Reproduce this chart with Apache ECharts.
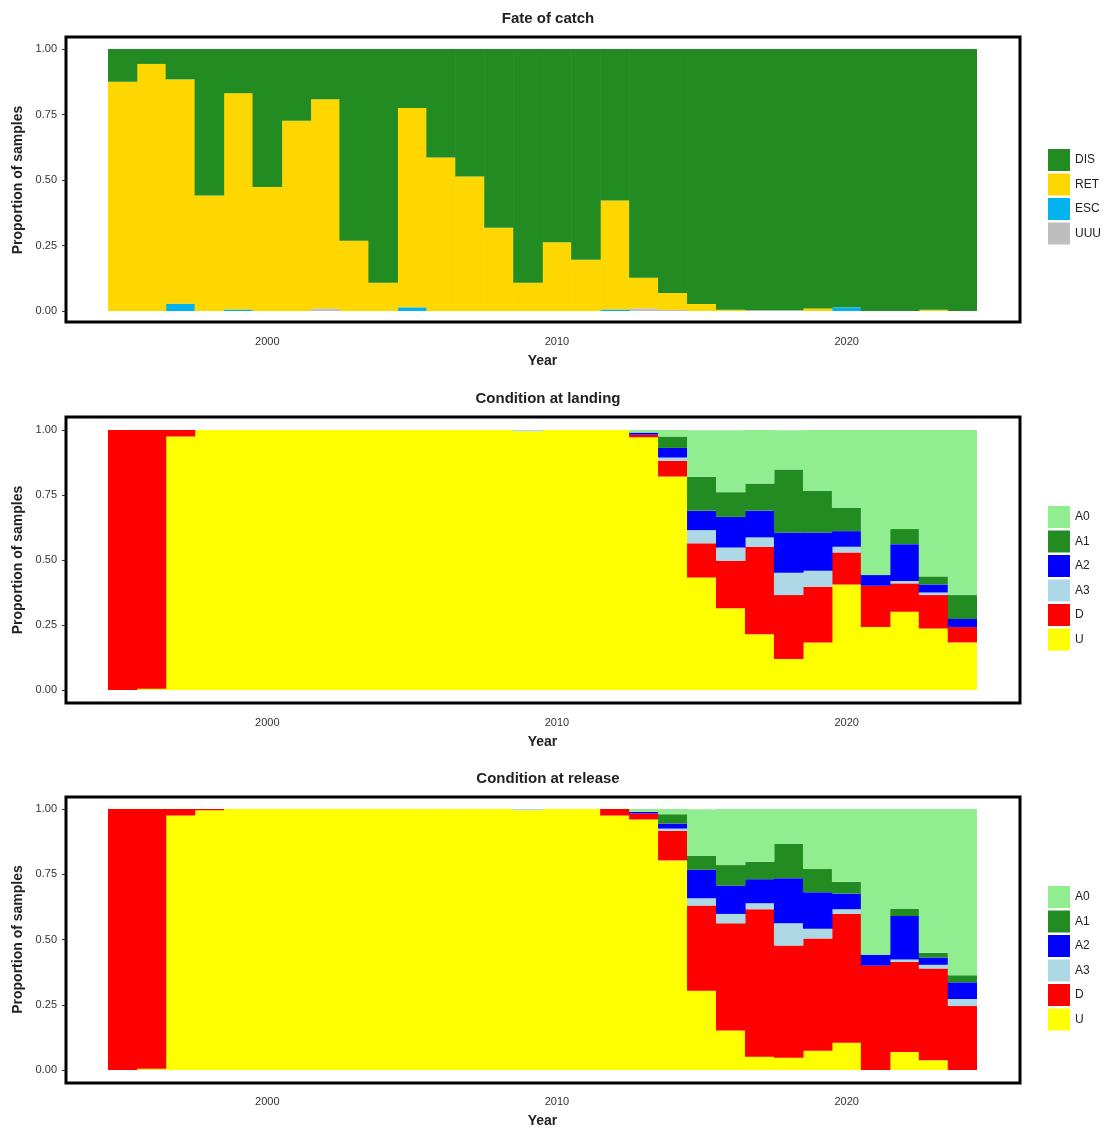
<!DOCTYPE html>
<html>
<head>
<meta charset="utf-8">
<script src="https://cdn.jsdelivr.net/npm/echarts@6/dist/echarts.min.js"></script>
<style>html,body{margin:0;background:#fff}#main{width:1108px;height:1129px}</style>
</head>
<body>
<div id="main"></div>
<script>
var years = [];
for (var y = 1995; y <= 2024; y++) years.push(String(y));
var yearTicks = ['2000', '2010', '2020'];

// 渔获去向
var UUU = [0,0,0,0,0,0,0,0.01,0,0,0,0,0,0,0,0,0,0,0.01,0.004,0,0,0.003,0.003,0,0,0,0,0,0];
var ESC = [0,0,0.028,0,0.006,0,0,0,0,0,0.014,0,0,0,0,0,0,0.006,0,0,0,0,0,0,0,0.014,0,0,0,0];
var RET = [0.875,0.943,0.856,0.441,0.825,0.473,0.726,0.798,0.268,0.108,0.761,0.586,0.513,0.318,0.108,0.262,0.196,0.416,0.117,0.065,0.027,0.005,0,0,0.01,0,0,0,0.005,0];
var DIS = [0.125,0.057,0.116,0.559,0.169,0.527,0.274,0.192,0.732,0.892,0.225,0.414,0.487,0.682,0.892,0.738,0.804,0.578,0.873,0.931,0.973,0.995,0.997,0.997,0.99,0.986,1,1,0.995,1];

// 上岸时状态
var landU  = [0,0.005,0.975,1,1,1,1,1,1,1,1,1,1,1,0.995,1,1,1,0.972,0.821,0.433,0.314,0.214,0.119,0.183,0.406,0.242,0.301,0.237,0.183];
var landD  = [1,0.995,0.025,0,0,0,0,0,0,0,0,0,0,0,0,0,0,0,0.010,0.060,0.131,0.183,0.337,0.246,0.214,0.123,0.159,0.109,0.128,0.059];
var landA3 = [0,0,0,0,0,0,0,0,0,0,0,0,0,0,0.005,0,0,0,0,0.013,0.051,0.051,0.036,0.086,0.062,0.022,0,0.009,0.010,0];
var landA2 = [0,0,0,0,0,0,0,0,0,0,0,0,0,0,0,0,0,0,0.008,0.037,0.074,0.118,0.103,0.155,0.147,0.060,0.041,0.142,0.031,0.031];
var landA1 = [0,0,0,0,0,0,0,0,0,0,0,0,0,0,0,0,0,0,0,0.044,0.131,0.095,0.104,0.242,0.159,0.090,0,0.058,0.031,0.092];
var landA0 = [0,0,0,0,0,0,0,0,0,0,0,0,0,0,0,0,0,0,0.010,0.026,0.179,0.238,0.206,0.151,0.235,0.299,0.558,0.381,0.563,0.635];

// 释放时状态
var relU  = [0,0.005,0.975,0.995,1,1,1,1,1,1,1,1,1,1,0.995,1,1,0.975,0.96,0.803,0.304,0.151,0.051,0.047,0.074,0.104,0,0.069,0.037,0];
var relD  = [1,0.995,0.025,0.005,0,0,0,0,0,0,0,0,0,0,0,0,0,0.025,0.023,0.113,0.326,0.411,0.565,0.43,0.43,0.494,0.40,0.345,0.352,0.245];
var relA3 = [0,0,0,0,0,0,0,0,0,0,0,0,0,0,0.005,0,0,0,0,0.009,0.028,0.036,0.023,0.085,0.037,0.018,0,0.009,0.014,0.027];
var relA2 = [0,0,0,0,0,0,0,0,0,0,0,0,0,0,0,0,0,0,0.006,0.019,0.109,0.109,0.092,0.173,0.14,0.06,0.042,0.167,0.028,0.064];
var relA1 = [0,0,0,0,0,0,0,0,0,0,0,0,0,0,0,0,0,0,0,0.036,0.053,0.078,0.067,0.131,0.089,0.045,0,0.027,0.018,0.027];
var relA0 = [0,0,0,0,0,0,0,0,0,0,0,0,0,0,0,0,0,0,0.011,0.02,0.179,0.215,0.202,0.134,0.230,0.28,0.558,0.384,0.551,0.637];

var panels = [
	{title: 'Fate of catch', top: 49, h: 262, bTop: 37, bBot: 322,
	 series: [['UUU', UUU, '#BEBEBE'], ['ESC', ESC, '#00B2EE'], ['RET', RET, '#FFD700'], ['DIS', DIS, '#228B22']],
	 legendTop: 144},
	{title: 'Condition at landing', top: 430, h: 260, bTop: 417, bBot: 703,
	 series: [['U', landU, '#FFFF00'], ['D', landD, '#FF0000'], ['A3', landA3, '#ADD8E6'], ['A2', landA2, '#0000FF'], ['A1', landA1, '#228B22'], ['A0', landA0, '#90EE90']],
	 legendTop: 501},
	{title: 'Condition at release', top: 809, h: 262, bTop: 797, bBot: 1083,
	 series: [['U', relU, '#FFFF00'], ['D', relD, '#FF0000'], ['A3', relA3, '#ADD8E6'], ['A2', relA2, '#0000FF'], ['A1', relA1, '#228B22'], ['A0', relA0, '#90EE90']],
	 legendTop: 881}
];

var grid = [], xAxis = [], yAxis = [], series = [], title = [], legend = [], graphic = [];
var txt = {fontFamily: 'Liberation Sans', color: '#333', fontSize: 11};
var nameTxt = {fontFamily: 'Liberation Sans', fontSize: 14, fontWeight: 'bold', color: '#222'};
var onTick = function (idx, val) { return yearTicks.indexOf(val) >= 0; };

panels.forEach(function (p, i) {
	grid.push({left: 108, right: 131, top: p.top, height: p.h});
	title.push({text: p.title, left: 543, textAlign: 'center', top: p.bTop - 31,
		textStyle: {fontFamily: 'Liberation Sans', fontSize: 15, fontWeight: 'bold', color: '#222'}});
	xAxis.push({type: 'category', gridIndex: i, data: years, boundaryGap: true,
		offset: p.bBot - p.top - p.h + 1,
		name: 'Year', nameLocation: 'middle', nameGap: 31, nameTextStyle: nameTxt,
		axisLine: {show: false}, splitLine: {show: false},
		axisTick: {length: 4, alignWithLabel: true, interval: onTick, lineStyle: {color: '#333'}},
		axisLabel: Object.assign({margin: 13, interval: onTick}, txt)
	});
	yAxis.push({type: 'value', gridIndex: i, min: 0, max: 1, interval: 0.25, offset: 42,
		name: 'Proportion of samples', nameLocation: 'middle', nameGap: 40, nameTextStyle: nameTxt,
		axisLine: {show: false}, splitLine: {show: false},
		axisTick: {show: true, length: 4, lineStyle: {color: '#333'}},
		axisLabel: Object.assign({margin: 9, formatter: function (v) { return v.toFixed(2); }}, txt)
	});
	var names = [];
	p.series.forEach(function (s) {
		names.unshift(s[0]);
		series.push({
			name: s[0], type: 'bar', stack: 'p' + i, xAxisIndex: i, yAxisIndex: i,
			barWidth: '102%', itemStyle: {color: s[2]}, emphasis: {disabled: true},
			data: s[1]
		});
	});
	legend.push({orient: 'vertical', left: 1043, top: p.legendTop, itemWidth: 22, itemHeight: 22,
		itemGap: 2.5, icon: 'rect', data: names, selectedMode: false,
		textStyle: {fontFamily: 'Liberation Sans', fontSize: 12, color: '#222'}});
	graphic.push({type: 'rect', shape: {x: 66, y: p.bTop, width: 954, height: p.bBot - p.bTop},
		style: {fill: 'none', stroke: '#000', lineWidth: 3}, z: 100});
});

var chart = echarts.init(document.getElementById('main'));
chart.setOption({
	animation: false,
	title: title, grid: grid, xAxis: xAxis, yAxis: yAxis, legend: legend,
	series: series, graphic: graphic
});
</script>
</body>
</html>
